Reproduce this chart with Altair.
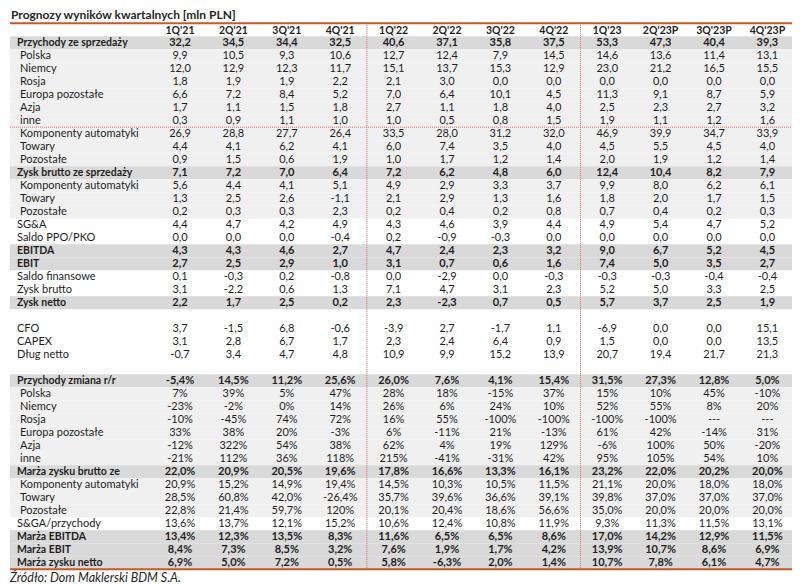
import altair as alt
import pandas as pd

# ---------------- data ----------------
title = "Prognozy wyników kwartalnych [mln PLN]"
source = "Źródło: Dom Maklerski BDM S.A."
quarters = ["1Q'21", "2Q'21", "3Q'21", "4Q'21", "1Q'22", "2Q'22", "3Q'22", "4Q'22",
            "1Q'23", "2Q'23P", "3Q'23P", "4Q'23P"]

rev = [32.2, 34.5, 34.4, 32.5, 40.6, 37.1, 35.8, 37.5, 53.3, 47.3, 40.4, 39.3]
rev_pl = [9.9, 10.5, 9.3, 10.6, 12.7, 12.4, 7.9, 14.5, 14.6, 13.6, 11.4, 13.1]
rev_de = [12.0, 12.9, 12.3, 11.7, 15.1, 13.7, 15.3, 12.9, 23.0, 21.2, 16.5, 15.5]
rev_ru = [1.8, 1.9, 1.9, 2.2, 2.1, 3.0, 0.0, 0.0, 0.0, 0.0, 0.0, 0.0]
rev_eu = [6.6, 7.2, 8.4, 5.2, 7.0, 6.4, 10.1, 4.5, 11.3, 9.1, 8.7, 5.9]
rev_as = [1.7, 1.1, 1.5, 1.8, 2.7, 1.1, 1.8, 4.0, 2.5, 2.3, 2.7, 3.2]
rev_ot = [0.3, 0.9, 1.1, 1.0, 1.0, 0.5, 0.8, 1.5, 1.9, 1.1, 1.2, 1.6]
rev_comp = [26.9, 28.8, 27.7, 26.4, 33.5, 28.0, 31.2, 32.0, 46.9, 39.9, 34.7, 33.9]
rev_goods = [4.4, 4.1, 6.2, 4.1, 6.0, 7.4, 3.5, 4.0, 4.5, 5.5, 4.5, 4.0]
rev_other = [0.9, 1.5, 0.6, 1.9, 1.0, 1.7, 1.2, 1.4, 2.0, 1.9, 1.2, 1.4]
gp = [7.1, 7.2, 7.0, 6.4, 7.2, 6.2, 4.8, 6.0, 12.4, 10.4, 8.2, 7.9]
gp_comp = [5.6, 4.4, 4.1, 5.1, 4.9, 2.9, 3.3, 3.7, 9.9, 8.0, 6.2, 6.1]
gp_goods = [1.3, 2.5, 2.6, -1.1, 2.1, 2.9, 1.3, 1.6, 1.8, 2.0, 1.7, 1.5]
gp_other = [0.2, 0.3, 0.3, 2.3, 0.2, 0.4, 0.2, 0.8, 0.7, 0.4, 0.2, 0.3]
sga = [4.4, 4.7, 4.2, 4.9, 4.3, 4.6, 3.9, 4.4, 4.9, 5.4, 4.7, 5.2]
other_op = [0.0, 0.0, 0.0, -0.4, 0.2, -0.9, -0.3, 0.0, 0.0, 0.0, 0.0, 0.0]
ebitda = [4.3, 4.3, 4.6, 2.7, 4.7, 2.4, 2.3, 3.2, 9.0, 6.7, 5.2, 4.5]
ebit = [2.7, 2.5, 2.9, 1.0, 3.1, 0.7, 0.6, 1.6, 7.4, 5.0, 3.5, 2.7]
fin = [0.1, -0.3, 0.2, -0.8, 0.0, -2.9, 0.0, -0.3, -0.3, -0.3, -0.4, -0.4]
pbt = [3.1, -2.2, 0.6, 1.3, 7.1, 4.7, 3.1, 2.3, 5.2, 5.0, 3.3, 2.5]
net = [2.2, 1.7, 2.5, 0.2, 2.3, -2.3, 0.7, 0.5, 5.7, 3.7, 2.5, 1.9]
cfo = [3.7, -1.5, 6.8, -0.6, -3.9, 2.7, -1.7, 1.1, -6.9, 0.0, 0.0, 15.1]
capex = [3.1, 2.8, 6.7, 1.7, 2.3, 2.4, 6.4, 0.9, 1.5, 0.0, 0.0, 13.5]
net_debt = [-0.7, 3.4, 4.7, 4.8, 10.9, 9.9, 15.2, 13.9, 20.7, 19.4, 21.7, 21.3]
yoy = [-5.4, 14.5, 11.2, 25.6, 26.0, 7.6, 4.1, 15.4, 31.5, 27.3, 12.8, 5.0]
yoy_pl = [7, 39, 5, 47, 28, 18, -15, 37, 15, 10, 45, -10]
yoy_de = [-23, -2, 0, 14, 26, 6, 24, 10, 52, 55, 8, 20]
yoy_ru = [-10, -45, 74, 72, 16, 55, -100, -100, -100, -100, None, None]
yoy_eu = [33, 38, 20, -3, 6, -11, 21, -13, 61, 42, -14, 31]
yoy_as = [-12, 322, 54, 38, 62, 4, 19, 129, -6, 100, 50, -20]
yoy_ot = [-21, 112, 36, 118, 215, -41, -31, 42, 95, 105, 54, 10]
gm = [22.0, 20.9, 20.5, 19.6, 17.8, 16.6, 13.3, 16.1, 23.2, 22.0, 20.2, 20.0]
gm_comp = [20.9, 15.2, 14.9, 19.4, 14.5, 10.3, 10.5, 11.5, 21.1, 20.0, 18.0, 18.0]
gm_goods = [28.5, 60.8, 42.0, -26.4, 35.7, 39.6, 36.6, 39.1, 39.8, 37.0, 37.0, 37.0]
gm_other = [22.8, 21.4, 59.7, 120.0, 20.1, 20.4, 18.6, 56.6, 35.0, 20.0, 20.0, 20.0]
sga_ratio = [13.6, 13.7, 12.1, 15.2, 10.6, 12.4, 10.8, 11.9, 9.3, 11.3, 11.5, 13.1]
m_ebitda = [13.4, 12.3, 13.5, 8.3, 11.6, 6.5, 6.5, 8.6, 17.0, 14.2, 12.9, 11.5]
m_ebit = [8.4, 7.3, 8.5, 3.2, 7.6, 1.9, 1.7, 4.2, 13.9, 10.7, 8.6, 6.9]
m_net = [6.9, 5.0, 7.2, 0.5, 5.8, -6.3, 2.0, 1.4, 10.7, 7.8, 6.1, 4.7]

# label, kind (bold / top / sub / blank), background, number format, values
rows = [
    ("Przychody ze sprzedaży", "bold", "dark", "num", rev),
    ("Polska", "sub", "light", "num", rev_pl),
    ("Niemcy", "sub", "light", "num", rev_de),
    ("Rosja", "sub", "light", "num", rev_ru),
    ("Europa pozostałe", "sub", "light", "num", rev_eu),
    ("Azja", "sub", "light", "num", rev_as),
    ("inne", "sub", "light", "num", rev_ot),
    ("Komponenty automatyki", "sub", "light", "num", rev_comp),
    ("Towary", "sub", "light", "num", rev_goods),
    ("Pozostałe", "sub", "light", "num", rev_other),
    ("Zysk brutto ze sprzedaży", "bold", "dark", "num", gp),
    ("Komponenty automatyki", "sub", "light", "num", gp_comp),
    ("Towary", "sub", "light", "num", gp_goods),
    ("Pozostałe", "sub", "light", "num", gp_other),
    ("SG&A", "top", "white", "num", sga),
    ("Saldo PPO/PKO", "top", "white", "num", other_op),
    ("EBITDA", "bold", "dark", "num", ebitda),
    ("EBIT", "bold", "dark", "num", ebit),
    ("Saldo finansowe", "top", "white", "num", fin),
    ("Zysk brutto", "top", "white", "num", pbt),
    ("Zysk netto", "bold", "dark", "num", net),
    ("", "blank", "white", None, None),
    ("CFO", "top", "white", "num", cfo),
    ("CAPEX", "top", "white", "num", capex),
    ("Dług netto", "top", "white", "num", net_debt),
    ("", "blank", "white", None, None),
    ("Przychody zmiana r/r", "bold", "dark", "pct1", yoy),
    ("Polska", "sub", "light", "pct0", yoy_pl),
    ("Niemcy", "sub", "light", "pct0", yoy_de),
    ("Rosja", "sub", "light", "pct0", yoy_ru),
    ("Europa pozostałe", "sub", "light", "pct0", yoy_eu),
    ("Azja", "sub", "light", "pct0", yoy_as),
    ("inne", "sub", "light", "pct0", yoy_ot),
    ("Marża zysku brutto ze", "bold", "dark", "pct1", gm),
    ("Komponenty automatyki", "sub", "light", "pct1", gm_comp),
    ("Towary", "sub", "light", "pct1", gm_goods),
    ("Pozostałe", "sub", "light", "pct1", gm_other),
    ("S&GA/przychody", "top", "white", "pct1", sga_ratio),
    ("Marża EBITDA", "bold", "dark", "pct1", m_ebitda),
    ("Marża EBIT", "bold", "dark", "pct1", m_ebit),
    ("Marża zysku netto", "bold", "dark", "pct1", m_net),
]


def fmt(v, f):
    if v is None:
        return "---"
    if f == "num":
        return f"{v:.1f}".replace(".", ",")
    if f == "pct0" or abs(v) >= 100:
        return f"{v:.0f}%"
    return f"{v:.1f}%".replace(".", ",")


cells, labels, bands = [], [], []
for r, (label, kind, bg, f, vals) in enumerate(rows, start=1):
    if bg != "white":
        bands.append({"y0": r - 0.5, "y1": r + 0.5, "bg": bg})
    if kind == "blank":
        continue
    labels.append({"row": r, "label": label, "kind": kind})
    for c, v in enumerate(vals):
        cells.append({"row": r, "col": c, "txt": fmt(v, f), "bold": kind == "bold"})

cells = pd.DataFrame(cells)
labels = pd.DataFrame(labels)
bands = pd.DataFrame(bands)
header = pd.DataFrame({"col": list(range(len(quarters))), "q": quarters, "row": 0})
nrows = len(rows)

# ---------------- layout ----------------
W, H = 784, 577
COL0, COLW = 172.0, 53.4
ROW0, ROWH = 21.7, 13.0
xs = alt.Scale(domain=[-COL0 / COLW, (W - COL0) / COLW], nice=False, zero=False)
ys = alt.Scale(domain=[-ROW0 / ROWH, (H - ROW0) / ROWH], nice=False, zero=False, reverse=True)
FONT = "Lato"
TXT = "#1e1e1e"
XL, XR = 2, 787

bg_layer = alt.Chart(bands).mark_rect().encode(
    x=alt.value(XL), x2=alt.value(XR),
    y=alt.Y("y0:Q", scale=ys, axis=None), y2="y1:Q",
    color=alt.Color("bg:N", scale=alt.Scale(domain=["dark", "light"], range=["#d9d9d9", "#f0f0f0"]), legend=None),
)

vsep = pd.DataFrame({"xv": [3.5, 7.5, 11.5], "ya": -0.5, "yb": nrows + 0.5})
vlines = alt.Chart(vsep).mark_rule(color="#e06a6a", strokeDash=[1, 1], strokeWidth=1).encode(
    x=alt.X("xv:Q", scale=xs, axis=None),
    y=alt.Y("ya:Q", scale=ys, axis=None), y2="yb:Q",
)

hdot = alt.Chart(pd.DataFrame({"yv": [7.5]})).mark_rule(color="#e06a6a", strokeDash=[1, 1], strokeWidth=1).encode(
    x=alt.value(XL), x2=alt.value(XR), y=alt.Y("yv:Q", scale=ys, axis=None),
)

orange = alt.Chart(pd.DataFrame({"yv": [-0.5, nrows + 0.5]})).mark_rule(color="#c55a28", strokeWidth=2).encode(
    x=alt.value(XL), x2=alt.value(XR), y=alt.Y("yv:Q", scale=ys, axis=None),
)

def value_layer(bold):
    return alt.Chart(cells[cells["bold"] == bold]).mark_text(
        font=FONT, fontSize=11, fontWeight="bold" if bold else "normal", color=TXT,
        align="center", baseline="middle",
    ).encode(
        x=alt.X("col:Q", scale=xs, axis=None),
        y=alt.Y("row:Q", scale=ys, axis=None),
        text="txt:N",
    )

def label_layer(kind, xpix, bold, size):
    return alt.Chart(labels[labels["kind"] == kind]).mark_text(
        font=FONT, fontSize=size, fontWeight="bold" if bold else "normal", color=TXT,
        align="left", baseline="middle",
    ).encode(
        x=alt.value(xpix),
        y=alt.Y("row:Q", scale=ys, axis=None),
        text="label:N",
    )

head = alt.Chart(header).mark_text(
    font=FONT, fontSize=10.5, fontWeight="bold", color=TXT, align="center", baseline="middle", dy=1,
).encode(
    x=alt.X("col:Q", scale=xs, axis=None),
    y=alt.Y("row:Q", scale=ys, axis=None),
    text="q:N",
)

title_layer = alt.Chart(pd.DataFrame({"t": [title]})).mark_text(
    font=FONT, fontSize=12, fontWeight="bold", color="#262626", align="left", baseline="top",
).encode(x=alt.value(3), y=alt.value(2), text="t:N")

source_layer = alt.Chart(pd.DataFrame({"t": [source]})).mark_text(
    font=FONT, fontSize=12.5, fontStyle="italic", color="#262626", align="left", baseline="middle",
).encode(x=alt.value(2), y=alt.value(570), text="t:N")

chart = alt.layer(
    bg_layer, hdot, vlines, orange,
    value_layer(False), value_layer(True),
    label_layer("bold", 9, True, 10.5), label_layer("top", 9, False, 11), label_layer("sub", 12, False, 11),
    head, title_layer, source_layer,
).properties(
    width=W, height=H, padding=0, autosize=alt.AutoSizeParams(type="none"), background="white",
).configure_view(stroke=None)

chart.save("out.html", embed_options={"renderer": "svg", "actions": False})
